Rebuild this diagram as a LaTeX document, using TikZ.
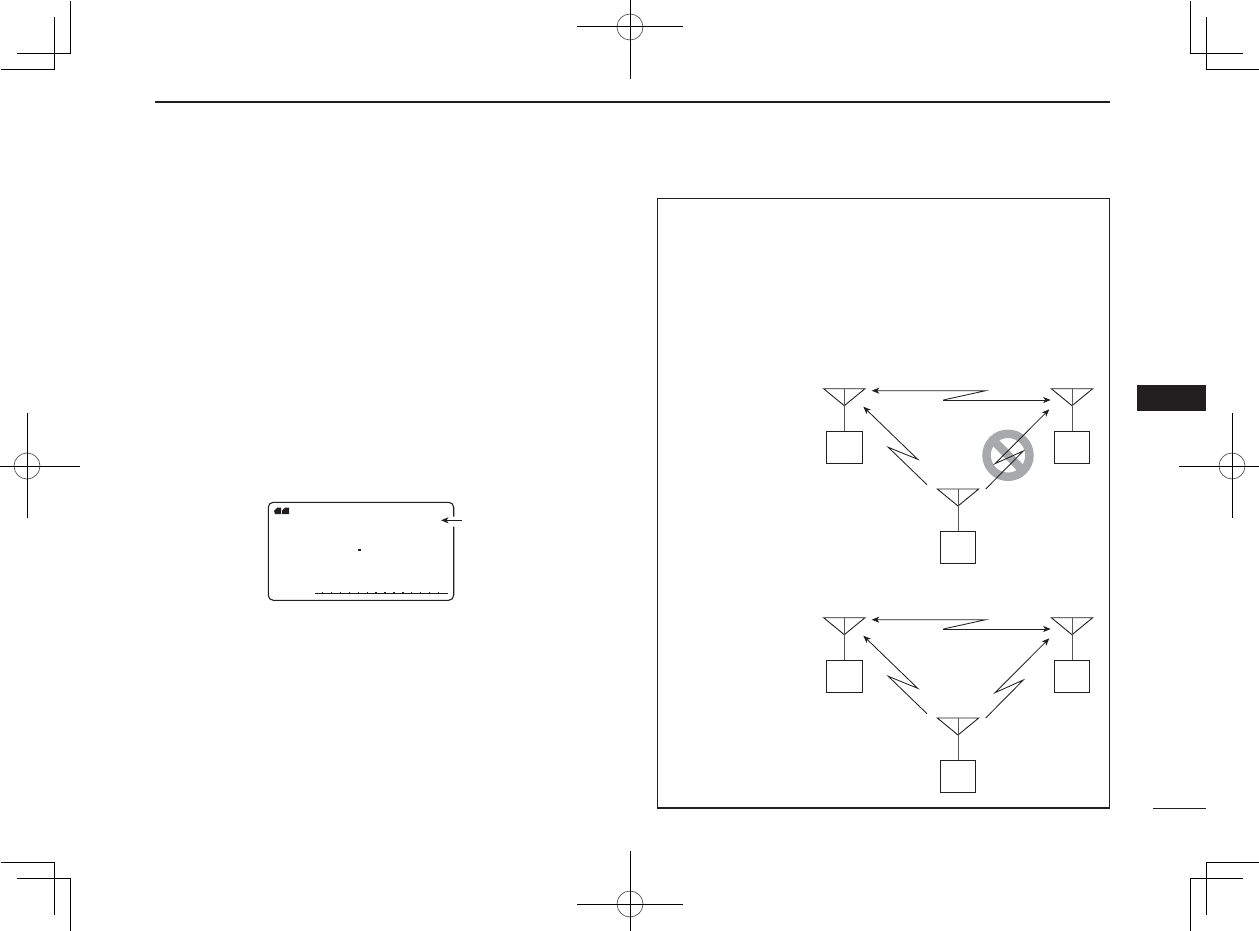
\documentclass[tikz,border=0pt]{standalone}
\usetikzlibrary{arrows.meta}
\definecolor{ink}{HTML}{231F20}
\definecolor{ringgray}{HTML}{A7A9AC}
\tikzset{
  x=1pt,y=-1pt,
  crop/.style={draw=black,line width=1pt,line cap=butt},
  regcircle/.style={circle,draw=ink!75,line width=0.7pt,minimum size=26pt,inner sep=0pt},
  unitbox/.style={rectangle,draw=ink,line width=1pt,minimum width=35.5pt,minimum height=32pt,inner sep=0pt},
  thin line/.style={draw=ink,line width=0.8pt},
  stem/.style={draw=ink!75,line width=1pt},
  link/.style={draw=ink,line width=0.85pt,line join=miter,-{Stealth[length=7.5pt,width=6pt,inset=2pt]}},
  frameline/.style={draw=ink,line width=1.2pt},
  dishape/.style={draw=ink,line width=0.9pt,line join=miter},
}
\newcommand{\regmark}[3]{% name, x, y
  \node[regcircle] (#1) at (#2,#3) {};
  \coordinate (#1w) at (#2-53,#3);
  \coordinate (#1e) at (#2+53,#3);
  \coordinate (#1n) at (#2,#3-53);
  \coordinate (#1s) at (#2,#3+52);
  \draw[crop] (#1w) -- (#1e);
  \draw[crop] (#1n) -- (#1s);
}
\newcommand{\antenna}[3]{% name, x (center), y (top of triangle)
  \coordinate (#1a) at (#2-20.7,#3);
  \coordinate (#1b) at (#2+20.7,#3);
  \coordinate (#1c) at (#2,#3+17);
  \coordinate (#1t) at (#2,#3);
  \node[unitbox,anchor=north] (#1box) at (#2,#3+42.3) {};
  \draw[dishape] (#1a) -- (#1b) -- (#1c) -- cycle;
  \draw[stem] (#1t) -- (#1box.north);
}
\newcommand{\network}[2]{% prefix, dy
  \antenna{#1L}{844.3}{388.7+#2}
  \antenna{#1R}{1072}{388.7+#2}
  \antenna{#1B}{958}{489+#2}
  \coordinate (#1p1) at (985.7,390.7+#2);
  \coordinate (#1p2) at (943.3,400+#2);
  \coordinate (#1tipLt) at (871.7,390.7+#2);
  \coordinate (#1tipRt) at (1050.7,400+#2);
  \coordinate (#1tipL) at (863.3,406.7+#2);
  \coordinate (#1l1) at (917.7,459.3+#2);
  \coordinate (#1l2) at (888.3,447.3+#2);
  \coordinate (#1l3) at (927,484.7+#2);
  \coordinate (#1tipR) at (1049.3,409.3+#2);
  \coordinate (#1r1) at (995,463.7+#2);
  \coordinate (#1r2) at (1023.3,451+#2);
  \coordinate (#1r3) at (985.7,489+#2);
  \draw[link] (#1p2) -- (#1tipRt);
  \draw[link] (#1p2) -- (#1p1) -- (#1tipLt);
  \draw[link] (#1l3) -- (#1l2) -- (#1l1) -- (#1tipL);
  \draw[link] (#1r3) -- (#1r2) -- (#1r1) -- (#1tipR);
}
\begin{document}
\begin{tikzpicture}
\useasboundingbox (0,0) rectangle (1259,931);
\fill[white] (0,0) rectangle (1259,931);

% crop marks
\draw[crop] (1,70) -- (54,70) -- (54,17);
\draw[crop] (17,54) -- (70,54) -- (70,1);
\draw[crop] (1190,1) -- (1190,54) -- (1243,54);
\draw[crop] (1206,17) -- (1206,70) -- (1259,70);
\draw[crop] (1,862) -- (54,862) -- (54,915);
\draw[crop] (17,878) -- (70,878) -- (70,931);
\draw[crop] (1259,862) -- (1206,862) -- (1206,915);
\draw[crop] (1243,878) -- (1190,878) -- (1190,931);

% registration marks
\regmark{regT}{630}{27}
\regmark{regL}{27}{466}
\regmark{regR}{1232}{466}
\regmark{regB}{630}{904}

% page furniture
\draw[ink,line width=2pt] (155,102) -- (1110,102);
\fill[ink] (1137,385) rectangle (1206,411);
\draw[ink,line width=1pt] (1153,808.5) -- (1206,808.5);
\draw[frameline] (657.5,198.5) rectangle (1109.5,808);

% display
\draw[ink,line width=1.1pt,rounded corners=5pt]
  (453.7,516.7) -- (453.7,502.3) -- (268.3,502.3) -- (268.3,600.3) -- (453.7,600.3) -- (453.7,526.7);
\coordinate (dispTail) at (461.7,520.3);
\coordinate (dispTip) at (441,520.3);
\draw[link,line width=0.9pt] (dispTail) -- (dispTip);
\fill[ink] (274,511) -- (277,507.7) -- (281,507.7) -- (281,514) -- (275,514) -- cycle;
\fill[ink] (282,510.5) -- (285,507.7) -- (289,507.7) -- (289,514) -- (282,514) -- cycle;
\fill[ink] (358,549) rectangle (361,551);
\draw[ink,line width=1.2pt] (315,593.7) -- (448.3,593.7);
\foreach \i in {0,...,13} {
  \fill[ink] ({322+8.9*\i},591.5) rectangle ({323.4+8.9*\i},594);
}

% prohibition sign, beneath the first network's links
\draw[ringgray,line width=8.5pt] (1008,455.3) circle (21.5);
\draw[ringgray,line width=8.5pt] (993,440) -- (1023,470.6);

% networks
\network{a}{0}
\network{b}{229}
\end{tikzpicture}
\end{document}
